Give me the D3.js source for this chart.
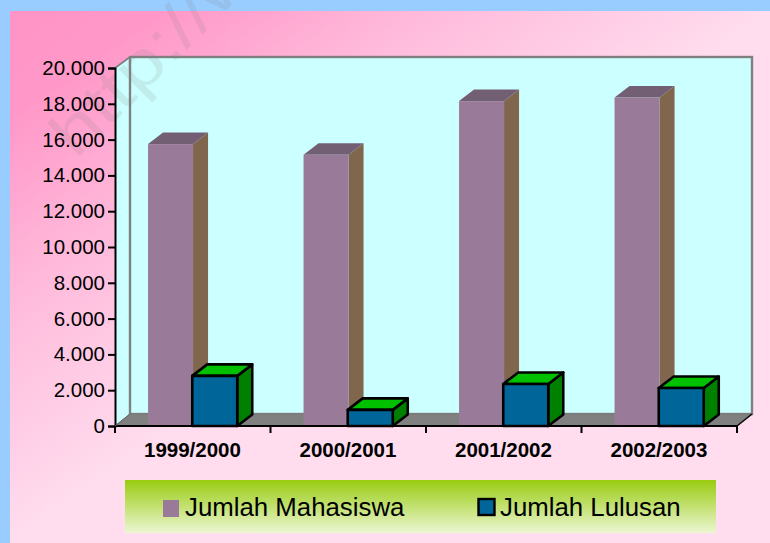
<!DOCTYPE html>
<html><head><meta charset="utf-8">
<script src="https://cdn.jsdelivr.net/npm/d3@7/dist/d3.min.js"></script>
<style>html,body{margin:0;padding:0;overflow:hidden}svg{display:block}text{font-family:"Liberation Sans",Arial,sans-serif}</style>
</head><body><svg id="c" width="770" height="543"></svg>
<script>
const categories=["1999/2000","2000/2001","2001/2002","2002/2003"];
const mahasiswa=[15750,15150,18150,18350];
const lulusan=[2800,900,2350,2120];
const yTicks=d3.range(0,20001,2000);
const seriesNames=["Jumlah Mahasiswa","Jumlah Lulusan"];
const fmt=v=>d3.format(",")(v).replace(/,/g,".");

const svg=d3.select("#c");
const defs=svg.append("defs");
const bg=defs.append("linearGradient").attr("id","bg").attr("gradientUnits","userSpaceOnUse")
 .attr("x1",10).attr("y1",11).attr("x2",258).attr("y2",367);
bg.append("stop").attr("offset",0).attr("stop-color","#ff94c6");
bg.append("stop").attr("offset",.2).attr("stop-color","#ff98c8");
bg.append("stop").attr("offset",.55).attr("stop-color","#ffbadb");
bg.append("stop").attr("offset",1).attr("stop-color","#ffdcee");
const lg=defs.append("linearGradient").attr("id","lg").attr("x1",0).attr("y1",0).attr("x2",0).attr("y2",1);
lg.append("stop").attr("offset",0).attr("stop-color","#99cc11");
lg.append("stop").attr("offset",1).attr("stop-color","#ecf6d2");

svg.append("rect").attr("width",770).attr("height",543).attr("fill","#99ccff");
svg.append("rect").attr("x",10).attr("y",11).attr("width",760).attr("height",532).attr("fill","url(#bg)");

const depthX=15,depthY=11.5;
const x=d3.scaleBand().domain(categories).range([115,737]);
const y=d3.scaleLinear().domain([0,20000]).range([426,68]);
const wallL=115+depthX,wallR=737+depthX,wallT=y(20000)-depthY+.5,wallB=y(0)-depthY-.5;

const pts=a=>a.map(p=>p.join(",")).join(" ");
svg.append("polygon").attr("points",pts([[115,y(20000)],[wallL,wallT],[wallL,wallB],[115,y(0)]]))
 .attr("fill","#ccffff");
svg.append("line").attr("x1",115).attr("y1",y(20000)).attr("x2",wallL).attr("y2",wallT).attr("stroke","#808080").attr("stroke-width",1.8);
svg.append("rect").attr("x",wallL).attr("y",wallT).attr("width",wallR-wallL).attr("height",wallB-wallT)
 .attr("fill","#ccffff").attr("stroke","#808080").attr("stroke-width",2.4);

// watermark over the wall, under the bars
svg.append("text").attr("transform","translate(76,160) rotate(-45) scale(1.25,1)")
 .attr("font-size",64).attr("fill","#808080").attr("fill-opacity",.15).text("http://w");

svg.append("polygon").attr("points",pts([[115,y(0)],[wallL,wallB],[wallR,wallB],[737,y(0)]]))
 .attr("fill","#808080").attr("stroke","#777").attr("stroke-width",1);

function box(x0,w,val,front,side,top,stroke,sw){
 const yt=y(val),yb=y(0);
 const g=svg.append("g").attr("stroke",stroke).attr("stroke-width",sw).attr("stroke-linejoin","round");
 g.append("polygon").attr("points",pts([[x0+w,yt],[x0+w+depthX,yt-depthY],[x0+w+depthX,yb-depthY],[x0+w,yb]])).attr("fill",side);
 g.append("polygon").attr("points",pts([[x0,yt],[x0+depthX,yt-depthY],[x0+w+depthX,yt-depthY],[x0+w,yt]])).attr("fill",top);
 g.append("rect").attr("x",x0).attr("y",yt).attr("width",w).attr("height",yb-yt).attr("fill",front);
}
const w=45;
categories.forEach((c,i)=>{
 const cx=x(c)+x.bandwidth()/2;
 box(cx-44.7,w,mahasiswa[i],"#997b99","#7f664c","#735f73","none",0);
});
categories.forEach((c,i)=>{
 const cx=x(c)+x.bandwidth()/2;
 box(cx-.5,w,lulusan[i],"#006699","#008000","#00c000","#000",2.6);
});

// axes
const yAxis=d3.axisLeft(y).tickValues(yTicks).tickFormat(fmt).tickSize(7).tickPadding(3);
const gy=svg.append("g").attr("transform","translate(115,0)").call(yAxis);
gy.selectAll("path").attr("stroke","#000").attr("stroke-width",2);
gy.selectAll("line").attr("stroke","#000").attr("stroke-width",2);
gy.selectAll("text").attr("font-size",20.5).attr("fill","#000").attr("font-family",'"Liberation Sans",Arial,sans-serif');

const xTicks=[...categories.map(c=>x(c)),737];
const gx=svg.append("g");
gx.append("line").attr("x1",115).attr("x2",737).attr("y1",y(0)).attr("y2",y(0)).attr("stroke","#000").attr("stroke-width",2);
gx.selectAll(".t").data(xTicks).join("line").attr("class","t").attr("x1",d=>d).attr("x2",d=>d).attr("y1",y(0)).attr("y2",y(0)+7).attr("stroke","#000").attr("stroke-width",2);
gx.selectAll("text").data(categories).join("text").attr("x",d=>x(d)+x.bandwidth()/2-.3).attr("y",456.5)
 .attr("text-anchor","middle").attr("font-size",20.5).attr("font-weight","bold").attr("fill","#000").text(d=>d);
svg.append("line").attr("x1",737).attr("y1",y(0)).attr("x2",wallR).attr("y2",wallB).attr("stroke","#000").attr("stroke-width",1.5);
svg.append("line").attr("x1",115).attr("y1",y(0)).attr("x2",wallL).attr("y2",wallB).attr("stroke","#666").attr("stroke-width",1);

// legend
svg.append("rect").attr("x",125).attr("y",480).attr("width",591).attr("height",53).attr("fill","url(#lg)");
svg.append("rect").attr("x",163).attr("y",500).attr("width",16).attr("height",17).attr("fill","#997b99");
svg.append("rect").attr("x",478.5).attr("y",499).attr("width",16).attr("height",16).attr("fill","#006699").attr("stroke","#000").attr("stroke-width",2.4);
svg.selectAll(".lt").data(seriesNames).join("text").attr("class","lt")
 .attr("x",(d,i)=>[185,500][i]).attr("y",516).attr("font-size",25.8).attr("fill","#000").text(d=>d);
</script></body></html>
